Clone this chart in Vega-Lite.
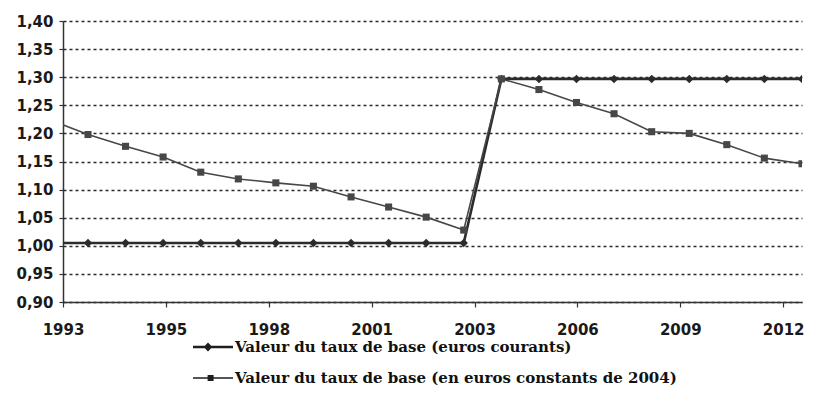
{
  "$schema": "https://vega.github.io/schema/vega-lite/v6.json",
  "width": 739,
  "height": 281,
  "autosize": {"type": "none"},
  "padding": {"left": 63, "top": 21, "right": 12, "bottom": 111},
  "background": "white",
  "config": {
    "view": {"stroke": null},
    "axis": {
      "labelFont": "DejaVu Sans",
      "labelFontWeight": "bold",
      "labelFontSize": 15,
      "labelColor": "#1a1a1a",
      "domainColor": "#333333",
      "domainWidth": 1.5,
      "tickColor": "#333333",
      "tickWidth": 1.2,
      "title": null
    }
  },
  "data": {
    "values": [
      {"date": "1992-09-01", "serie": "Valeur du taux de base (euros courants)", "valeur": 1.005},
      {"date": "1993-09-01", "serie": "Valeur du taux de base (euros courants)", "valeur": 1.005},
      {"date": "1994-09-01", "serie": "Valeur du taux de base (euros courants)", "valeur": 1.005},
      {"date": "1995-09-01", "serie": "Valeur du taux de base (euros courants)", "valeur": 1.005},
      {"date": "1996-09-01", "serie": "Valeur du taux de base (euros courants)", "valeur": 1.005},
      {"date": "1997-09-01", "serie": "Valeur du taux de base (euros courants)", "valeur": 1.005},
      {"date": "1998-09-01", "serie": "Valeur du taux de base (euros courants)", "valeur": 1.005},
      {"date": "1999-09-01", "serie": "Valeur du taux de base (euros courants)", "valeur": 1.005},
      {"date": "2000-09-01", "serie": "Valeur du taux de base (euros courants)", "valeur": 1.005},
      {"date": "2001-09-01", "serie": "Valeur du taux de base (euros courants)", "valeur": 1.005},
      {"date": "2002-09-01", "serie": "Valeur du taux de base (euros courants)", "valeur": 1.005},
      {"date": "2003-09-01", "serie": "Valeur du taux de base (euros courants)", "valeur": 1.005},
      {"date": "2004-09-01", "serie": "Valeur du taux de base (euros courants)", "valeur": 1.297},
      {"date": "2005-09-01", "serie": "Valeur du taux de base (euros courants)", "valeur": 1.297},
      {"date": "2006-09-01", "serie": "Valeur du taux de base (euros courants)", "valeur": 1.297},
      {"date": "2007-09-01", "serie": "Valeur du taux de base (euros courants)", "valeur": 1.297},
      {"date": "2008-09-01", "serie": "Valeur du taux de base (euros courants)", "valeur": 1.297},
      {"date": "2009-09-01", "serie": "Valeur du taux de base (euros courants)", "valeur": 1.297},
      {"date": "2010-09-01", "serie": "Valeur du taux de base (euros courants)", "valeur": 1.297},
      {"date": "2011-09-01", "serie": "Valeur du taux de base (euros courants)", "valeur": 1.297},
      {"date": "2012-09-01", "serie": "Valeur du taux de base (euros courants)", "valeur": 1.297},
      {"date": "1992-09-01", "serie": "Valeur du taux de base (en euros constants de 2004)", "valeur": 1.224},
      {"date": "1993-09-01", "serie": "Valeur du taux de base (en euros constants de 2004)", "valeur": 1.198},
      {"date": "1994-09-01", "serie": "Valeur du taux de base (en euros constants de 2004)", "valeur": 1.177},
      {"date": "1995-09-01", "serie": "Valeur du taux de base (en euros constants de 2004)", "valeur": 1.158},
      {"date": "1996-09-01", "serie": "Valeur du taux de base (en euros constants de 2004)", "valeur": 1.131},
      {"date": "1997-09-01", "serie": "Valeur du taux de base (en euros constants de 2004)", "valeur": 1.119},
      {"date": "1998-09-01", "serie": "Valeur du taux de base (en euros constants de 2004)", "valeur": 1.112},
      {"date": "1999-09-01", "serie": "Valeur du taux de base (en euros constants de 2004)", "valeur": 1.106},
      {"date": "2000-09-01", "serie": "Valeur du taux de base (en euros constants de 2004)", "valeur": 1.087},
      {"date": "2001-09-01", "serie": "Valeur du taux de base (en euros constants de 2004)", "valeur": 1.069},
      {"date": "2002-09-01", "serie": "Valeur du taux de base (en euros constants de 2004)", "valeur": 1.051},
      {"date": "2003-09-01", "serie": "Valeur du taux de base (en euros constants de 2004)", "valeur": 1.028},
      {"date": "2004-09-01", "serie": "Valeur du taux de base (en euros constants de 2004)", "valeur": 1.297},
      {"date": "2005-09-01", "serie": "Valeur du taux de base (en euros constants de 2004)", "valeur": 1.278},
      {"date": "2006-09-01", "serie": "Valeur du taux de base (en euros constants de 2004)", "valeur": 1.255},
      {"date": "2007-09-01", "serie": "Valeur du taux de base (en euros constants de 2004)", "valeur": 1.235},
      {"date": "2008-09-01", "serie": "Valeur du taux de base (en euros constants de 2004)", "valeur": 1.203},
      {"date": "2009-09-01", "serie": "Valeur du taux de base (en euros constants de 2004)", "valeur": 1.200},
      {"date": "2010-09-01", "serie": "Valeur du taux de base (en euros constants de 2004)", "valeur": 1.180},
      {"date": "2011-09-01", "serie": "Valeur du taux de base (en euros constants de 2004)", "valeur": 1.156},
      {"date": "2012-09-01", "serie": "Valeur du taux de base (en euros constants de 2004)", "valeur": 1.146}
    ]
  },
  "encoding": {
    "x": {
      "field": "date",
      "type": "temporal",
      "scale": {
        "type": "utc",
        "domain": [
          {"year": 1993, "month": 1, "date": 1, "utc": true},
          {"year": 2012, "month": 9, "date": 1, "utc": true}
        ]
      },
      "axis": {
        "values": [
          {"year": 1993, "month": 1, "date": 1, "utc": true},
          {"year": 1995, "month": 9, "date": 28, "utc": true},
          {"year": 1998, "month": 6, "date": 24, "utc": true},
          {"year": 2001, "month": 3, "date": 20, "utc": true},
          {"year": 2003, "month": 12, "date": 15, "utc": true},
          {"year": 2006, "month": 9, "date": 10, "utc": true},
          {"year": 2009, "month": 6, "date": 6, "utc": true},
          {"year": 2012, "month": 3, "date": 2, "utc": true}
        ],
        "labelExpr": "utcFormat(datum.value, '%Y')",
        "labelFlush": false,
        "labelOverlap": false,
        "tickSize": 5,
        "labelPadding": 15,
        "grid": false
      }
    },
    "y": {
      "field": "valeur",
      "type": "quantitative",
      "scale": {"domain": [0.9, 1.4], "nice": false, "zero": false},
      "axis": {
        "values": [0.9, 0.95, 1.0, 1.05, 1.1, 1.15, 1.2, 1.25, 1.3, 1.35, 1.4],
        "labelExpr": "replace(format(datum.value, '.2f'), '.', ',')",
        "tickSize": 4,
        "labelPadding": 6,
        "grid": true,
        "gridColor": "#2a2a2a",
        "gridDash": [3, 3],
        "gridWidth": 1.3
      }
    }
  },
  "layer": [
    {
      "mark": {"type": "line", "clip": true},
      "encoding": {
        "color": {
          "field": "serie",
          "type": "nominal",
          "scale": {
            "domain": ["Valeur du taux de base (euros courants)", "Valeur du taux de base (en euros constants de 2004)"],
            "range": ["#2b2b2b", "#474747"]
          },
          "legend": null
        },
        "strokeWidth": {
          "field": "serie",
          "type": "nominal",
          "scale": {
            "domain": ["Valeur du taux de base (euros courants)", "Valeur du taux de base (en euros constants de 2004)"],
            "range": [2.6, 1.6]
          },
          "legend": null
        }
      }
    },
    {
      "mark": {"type": "point", "filled": true, "opacity": 1, "clip": true, "strokeWidth": 0},
      "encoding": {
        "color": {
          "field": "serie",
          "type": "nominal",
          "legend": null
        },
        "size": {
          "field": "serie",
          "type": "nominal",
          "scale": {
            "domain": ["Valeur du taux de base (euros courants)", "Valeur du taux de base (en euros constants de 2004)"],
            "range": [72, 50]
          },
          "legend": null
        },
        "shape": {
          "field": "serie",
          "type": "nominal",
          "scale": {
            "domain": ["Valeur du taux de base (euros courants)", "Valeur du taux de base (en euros constants de 2004)"],
            "range": ["diamond", "square"]
          },
          "legend": null
        }
      }
    },
    {
      "mark": {"type": "point", "filled": true, "opacity": 0, "clip": true, "strokeWidth": 0, "color": "#1e1e1e"},
      "encoding": {
        "shape": {
          "field": "serie",
          "type": "nominal",
          "scale": {
            "domain": ["Valeur du taux de base (euros courants)", "Valeur du taux de base (en euros constants de 2004)"],
            "range": [
              "M-1,-0.06H1V0.06H-1Z M-0.25,-0.22L-0.03,0L-0.25,0.22L-0.47,0Z",
              "M-1,-0.035H1V0.035H-1Z M-0.27,-0.15H0.03V0.15H-0.27Z"
            ]
          },
          "legend": {
            "orient": "none",
            "legendX": 130,
            "legendY": 306,
            "direction": "vertical",
            "title": null,
            "padding": 0,
            "symbolSize": 1600,
            "symbolFillColor": "#1e1e1e",
            "symbolStrokeColor": "#1e1e1e",
            "symbolStrokeWidth": 0,
            "symbolOpacity": 1,
            "labelFont": "DejaVu Serif",
            "labelFontWeight": "bold",
            "labelFontSize": 15,
            "labelColor": "#111111",
            "labelOffset": 2,
            "rowPadding": 3,
            "labelLimit": 700
          }
        }
      }
    },
    {
      "data": {"values": [{}]},
      "mark": {"type": "rule", "color": "#333333", "strokeWidth": 1.5},
      "encoding": {
        "x": {"datum": {"year": 2012, "month": 9, "date": 1, "utc": true}, "type": "temporal"},
        "y": null
      }
    }
  ],
  "resolve": {"scale": {"shape": "independent"}, "legend": {"shape": "independent"}}
}
